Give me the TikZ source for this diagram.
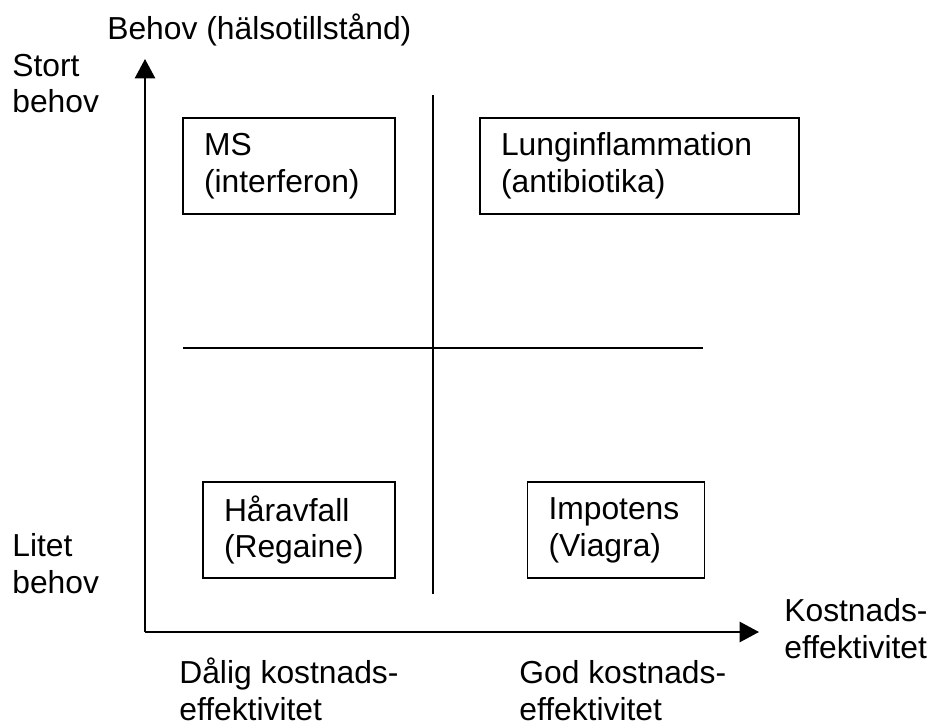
\documentclass[tikz,border=0pt]{standalone}
\usepackage{fontspec}
\setmainfont{Liberation Sans}
\usetikzlibrary{arrows.meta}

\newcommand{\fsz}{\fontsize{18.1pt}{21pt}\selectfont}
\newcommand{\qn}{\node[quad]}
\newcommand{\tn}{\node[lbl]}

\tikzset{
    quad/.style={draw, line width=1.1pt, inner xsep=0.42cm, inner ysep=0pt,
        minimum height=1.93cm, align=left, font=\fsz},
    lbl/.style={inner sep=0pt, anchor=base west, align=left, font=\fsz},
    axis/.style={line width=1.1pt, -{Triangle[length=11pt,width=11.5pt]}},
    split/.style={line width=0.8pt}
}

\begin{document}
\begin{tikzpicture}[x=0.02cm, y=-0.02cm]
            \useasboundingbox (0,0) rectangle (933,726);

            % axes
            \coordinate (orig) at (145,632);
            \coordinate (ytop) at (145,59);
            \coordinate (xend) at (759,632);
            \draw[axis] (orig) -- (ytop);
            \draw[axis] (orig) -- (xend);

            % quadrant lines
            \coordinate (vtop) at (433,95);
            \coordinate (vbot) at (433,594);
            \coordinate (hlft) at (183,348);
            \coordinate (hrgt) at (703,348);
            \draw[split]
                (vtop) -- (vbot)
                (hlft) -- (hrgt)
                ;

            % boxes
            \qn[text width=3.40cm] (ms) at (289,166) {MS\\(interferon)};
            \qn[text width=5.54cm] (lung) at (639.5,166) {Lunginflammation\\(antibiotika)};
            \qn[text width=3.00cm] (har) at (299,530) {Håravfall\\(Regaine)};
            \qn[text width=2.70cm] (imp) at (616,530) {Impotens\\(Viagra)};

            % labels (anchored on the last line)
            \tn (ylab) at (107,40) {Behov (hälsotillstånd)};
            \tn (stort) at (12,113) {Stort\\behov};
            \tn (litet) at (12,593) {Litet\\behov};
            \tn (xlab) at (784,658) {Kostnads-\\effektivitet};
            \tn (dalig) at (179,720) {Dålig kostnads-\\effektivitet};
            \tn (god) at (519,720) {God kostnads-\\effektivitet};

        \end{tikzpicture}
\end{document}
